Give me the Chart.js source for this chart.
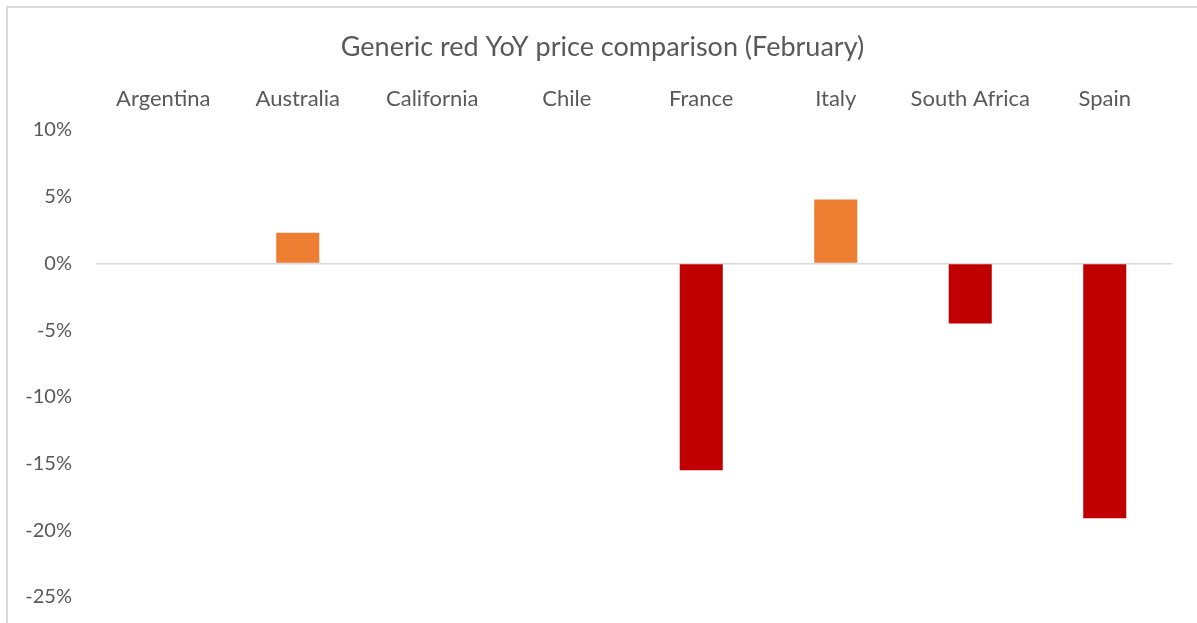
<!DOCTYPE html>
<html>
<head>
<meta charset="utf-8">
<script src="https://cdn.jsdelivr.net/npm/chart.js@4/dist/chart.umd.min.js"></script>
<style>
  html, body { margin: 0; padding: 0; background: #fff; overflow: hidden; }
  #frame {
    position: absolute; left: 6px; top: 6px; right: 0; bottom: 0;
    border-left: 2px solid #d9d9d9; border-top: 2px solid #d9d9d9;
  }
  #wrap { position: absolute; left: 0; top: 0; width: 1197px; height: 623px; }
</style>
</head>
<body>
<div id="frame"></div>
<div id="wrap"><canvas id="chart" width="1197" height="623"></canvas></div>
<script>
const countries = ['Argentina', 'Australia', 'California', 'Chile', 'France', 'Italy', 'South Africa', 'Spain'];
const yoyChange = [null, 2.3, null, null, -15.5, 4.8, -4.5, -19.1];
const yTicks = [10, 5, 0, -5, -10, -15, -20, -25];

const textColor = '#595959';
const fontFamily = 'Lato, "Open Sans", sans-serif';

// centre the title on the frame rather than on the layout box
const titleInFrame = {
  id: 'titleInFrame',
  afterLayout(chart) {
    if (chart.titleBlock) {
      chart.titleBlock.left = 8;
      chart.titleBlock.right = 1197;
    }
  }
};

const chart = new Chart(document.getElementById('chart'), {
  type: 'bar',
  data: {
    labels: countries,
    datasets: [{
      label: 'YoY',
      data: yoyChange,
      backgroundColor: yoyChange.map(v => v >= 0 ? '#ED7D31' : '#C00000'),
      barPercentage: 0.32,
      categoryPercentage: 1
    }]
  },
  options: {
    responsive: false,
    animation: false,
    devicePixelRatio: 1,
    layout: { padding: { top: 0, left: 0, right: 25, bottom: 26 } },
    plugins: {
      legend: { display: false },
      tooltip: { enabled: false },
      title: {
        display: true,
        text: 'Generic red YoY price comparison (February)',
        color: textColor,
        font: { family: fontFamily, size: 27, weight: 'normal', lineHeight: 1.2 },
        padding: { top: 31, bottom: 0 }
      }
    },
    scales: {
      x: {
        position: 'top',
        grid: { display: false, drawTicks: false },
        border: { display: false },
        ticks: {
          color: textColor,
          font: { family: fontFamily, size: 22 },
          padding: 18,
          maxRotation: 0
        },
        afterFit: s => { s.height = 130 - 63.4; s.paddingLeft = 0; s.paddingRight = 0; }
      },
      y: {
        min: -25,
        max: 10,
        afterBuildTicks: s => { s.ticks = yTicks.map(v => ({ value: v })); },
        grid: {
          drawTicks: false,
          lineWidth: 1.5,
          color: c => c.tick && c.tick.value === 0 ? '#d9d9d9' : 'rgba(0,0,0,0)'
        },
        border: { display: false },
        ticks: {
          color: textColor,
          font: { family: fontFamily, size: 20 },
          padding: 24,
          callback: v => v + '%'
        },
        afterFit: s => { s.width = 96; s.paddingTop = 0; s.paddingBottom = 0; }
      }
    }
  },
  plugins: [titleInFrame]
});
</script>
</body>
</html>
